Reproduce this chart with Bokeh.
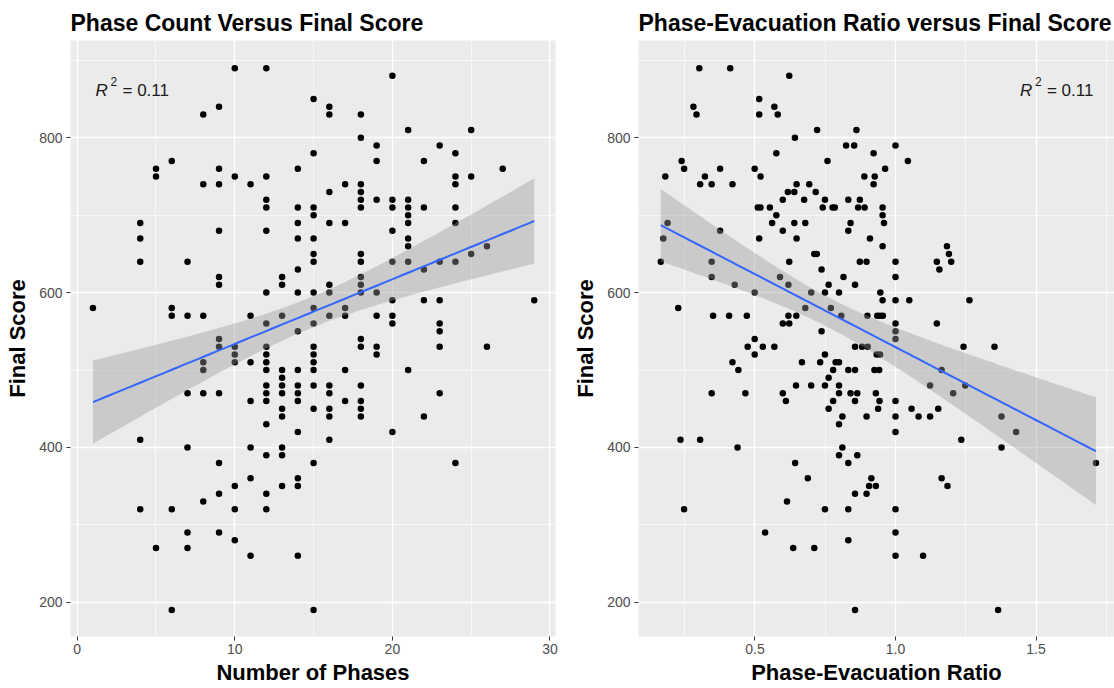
import numpy as np
from bokeh.plotting import figure
from bokeh.layouts import row
from bokeh.models import Range1d, FixedTicker, Label, PrintfTickFormatter
from bokeh.embed import file_html
from bokeh.resources import INLINE

# ---------------- data: left panel (Number of Phases vs Final Score) ----------------
phases = [1,
          4, 4, 4, 4, 4,
          5, 5, 5,
          6, 6, 6, 6, 6,
          7, 7, 7, 7, 7, 7,
          8, 8, 8, 8, 8, 8, 8,
          9, 9, 9, 9, 9, 9, 9, 9, 9, 9, 9, 9,
          10, 10, 10, 10, 10, 10, 10, 10,
          11, 11, 11, 11, 11, 11, 11,
          12, 12, 12, 12, 12, 12, 12, 12, 12, 12, 12, 12, 12, 12, 12, 12, 12, 12,
          13, 13, 13, 13, 13, 13, 13, 13, 13, 13, 13, 13,
          14, 14, 14, 14, 14, 14, 14, 14, 14, 14, 14, 14, 14, 14, 14,
          15, 15, 15, 15, 15, 15, 15, 15, 15, 15, 15, 15, 15, 15, 15, 15, 15, 15,
          16, 16, 16, 16, 16, 16, 16, 16, 16, 16, 16, 16,
          17, 17, 17, 17, 17, 17,
          18, 18, 18, 18, 18, 18, 18, 18, 18, 18, 18, 18, 18, 18, 18, 18, 18,
          19, 19, 19, 19, 19, 19, 19,
          20, 20, 20, 20, 20, 20, 20, 20, 20,
          21, 21, 21, 21, 21, 21, 21, 21, 21,
          22, 22, 22, 22, 22,
          23, 23, 23, 23, 23, 23, 23,
          24, 24, 24, 24, 24, 24, 24,
          25, 25, 25,
          26, 26,
          27,
          29]
phase_scores = [580,
                690, 670, 640, 410, 320,
                760, 750, 270,
                770, 580, 570, 320, 190,
                640, 570, 470, 400, 290, 270,
                830, 740, 570, 510, 500, 470, 330,
                840, 760, 740, 680, 620, 610, 540, 530, 470, 380, 340, 290,
                890, 750, 530, 520, 510, 350, 320, 280,
                740, 570, 510, 460, 400, 360, 260,
                890, 750, 720, 710, 680, 600, 560, 530, 520, 510, 500, 480, 470, 460, 430, 390, 340, 320,
                620, 610, 570, 500, 490, 480, 470, 450, 440, 400, 390, 350,
                760, 710, 690, 670, 630, 600, 550, 500, 480, 470, 460, 420, 360, 350, 260,
                850, 780, 710, 700, 670, 650, 640, 600, 580, 560, 530, 520, 510, 500, 480, 450, 380, 190,
                840, 830, 730, 690, 610, 600, 570, 480, 470, 450, 440, 410,
                740, 690, 580, 570, 500, 460,
                830, 800, 740, 730, 720, 710, 650, 640, 620, 610, 600, 540, 530, 480, 460, 450, 440,
                790, 770, 720, 600, 570, 530, 520,
                880, 720, 710, 680, 640, 590, 570, 560, 420,
                810, 720, 710, 700, 690, 670, 660, 640, 500,
                770, 710, 630, 590, 440,
                790, 640, 590, 560, 550, 530, 470,
                780, 750, 740, 710, 690, 640, 380,
                810, 750, 650,
                660, 530,
                760,
                590]

# ---------------- data: right panel (Phase-Evacuation Ratio vs Final Score) ----------------
ratio = [0.302, 0.412, 0.622, 0.281, 0.292, 0.515, 0.515, 0.569, 0.581, 0.642,
         0.576, 0.239, 0.248, 0.181, 0.376, 0.322, 0.305, 0.346, 0.420, 0.499,
         0.520, 0.648, 0.617, 0.640, 0.599, 0.510, 0.520, 0.553, 0.576, 0.561,
         0.640, 0.599, 0.648, 0.376, 0.189, 0.174, 0.165, 0.515, 0.346, 0.622,
         0.346, 0.428, 0.589, 0.619, 0.499, 0.227, 0.351, 0.408, 0.471, 0.619,
         0.647, 0.599, 0.622, 0.499,
         0.721, 0.861, 0.824, 0.853, 1.000, 0.922, 0.758, 1.044, 0.963, 0.889,
         0.926, 0.922, 0.693, 0.716, 0.675, 0.749, 0.832, 0.873, 0.741, 0.776,
         0.784, 0.867, 0.890, 0.954, 0.954, 0.959, 0.679, 0.840, 0.832, 0.909,
         0.954, 0.711, 0.720, 0.873, 0.897, 1.000, 1.183, 1.190, 1.198, 1.147,
         1.156, 0.737, 0.815, 1.000, 0.762, 0.856, 0.700, 0.749, 0.799, 0.946,
         0.954, 1.000, 1.049, 0.679, 0.770, 0.807, 0.900, 0.935, 0.945, 0.955,
         1.000, 1.147, 0.737, 1.000, 1.000,
         1.263,
         0.474, 0.499, 0.528, 0.569, 0.420, 0.441, 0.646, 0.346, 0.466, 0.599,
         0.610, 0.235, 0.305, 0.438, 0.643, 0.614, 0.248, 0.536, 0.636,
         0.856, 0.881, 0.901, 0.749, 0.933, 0.945, 0.667, 0.732, 0.787, 0.799,
         0.778, 0.832, 0.856, 0.925, 0.942, 1.164, 0.762, 0.700, 0.749, 0.799,
         1.123, 0.799, 0.840, 0.864, 0.930, 1.205, 0.778, 0.856, 0.943, 1.000,
         0.762, 0.938, 1.057, 1.152, 0.811, 0.897, 1.000, 1.082, 1.123, 0.799,
         1.000, 0.811, 0.799, 0.864, 0.832, 0.688, 0.914, 1.164, 0.906, 0.930,
         1.185, 0.856, 0.897, 0.749, 0.832, 1.000, 1.000, 0.832, 0.711, 1.000,
         1.098, 0.856,
         1.242, 1.352, 1.248, 1.377, 1.429, 1.234, 1.377, 1.713, 1.365]
ratio_scores = [890, 890, 880, 840, 830, 850, 830, 840, 830, 800,
                780, 770, 760, 750, 760, 750, 740, 740, 740, 760,
                750, 740, 730, 730, 720, 710, 710, 710, 700, 690,
                690, 680, 670, 680, 690, 670, 640, 670, 640, 640,
                620, 610, 620, 610, 600, 580, 570, 570, 570, 570,
                570, 560, 560, 540,
                810, 810, 790, 790, 790, 780, 770, 770, 760, 750,
                750, 740, 740, 730, 720, 720, 720, 720, 710, 710,
                710, 710, 710, 710, 700, 690, 690, 690, 680, 670,
                660, 650, 650, 640, 640, 640, 660, 650, 640, 640,
                630, 630, 620, 620, 610, 610, 600, 600, 600, 600,
                590, 590, 590, 580, 580, 570, 570, 570, 570, 570,
                560, 560, 550, 550, 540,
                590,
                530, 520, 530, 530, 510, 500, 480, 470, 470, 470,
                460, 410, 410, 400, 380, 330, 320, 290, 270,
                530, 530, 530, 520, 520, 520, 510, 510, 510, 510,
                500, 500, 500, 500, 500, 500, 490, 480, 480, 480,
                480, 470, 470, 470, 470, 470, 460, 460, 460, 460,
                450, 450, 450, 450, 440, 440, 440, 440, 440, 430,
                420, 400, 390, 390, 380, 360, 360, 360, 350, 350,
                350, 340, 340, 320, 320, 320, 290, 280, 270, 260,
                260, 190,
                530, 530, 480, 440, 420, 410, 400, 380, 190]

r2_text = "0.11"
left_title = "Phase Count Versus Final Score"
right_title = "Phase-Evacuation Ratio versus Final Score"

T95 = 1.97  # t quantile for 95% confidence band (df ~ 200)


def lm_band(x, y, n_pts=80):
    x = np.asarray(x, float)
    y = np.asarray(y, float)
    n = len(x)
    b, a = np.polyfit(x, y, 1)
    xs = np.linspace(x.min(), x.max(), n_pts)
    yh = a + b * xs
    resid = y - (a + b * x)
    s = np.sqrt(np.sum(resid ** 2) / (n - 2))
    sxx = np.sum((x - x.mean()) ** 2)
    se = s * np.sqrt(1.0 / n + (xs - x.mean()) ** 2 / sxx)
    return xs, yh, yh - T95 * se, yh + T95 * se


FONT = "Liberation Sans"


def make_panel(x, y, width, bl, br, xr, xticks, xminor, xlabel, title, xfmt=None):
    p = figure(width=width, height=688, output_backend="svg", toolbar_location=None,
               x_range=Range1d(*xr), y_range=Range1d(155.7, 925.7),
               min_border_left=bl, min_border_right=br, min_border_top=40, min_border_bottom=52)
    p.background_fill_color = "#EBEBEB"
    p.border_fill_color = "white"
    p.outline_line_color = None

    p.title.text = title
    p.title.text_font = FONT
    p.title.text_font_style = "bold"
    p.title.text_font_size = "23px"
    p.title.text_color = "black"
    p.title.align = "left"
    p.title.standoff = 10

    p.xaxis.ticker = FixedTicker(ticks=xticks, minor_ticks=xminor)
    if xfmt is not None:
        p.xaxis.formatter = PrintfTickFormatter(format=xfmt)
    p.yaxis.ticker = FixedTicker(ticks=[200, 400, 600, 800], minor_ticks=[300, 500, 700, 900])
    for ax in (p.xaxis[0], p.yaxis[0]):
        ax.axis_line_color = None
        ax.major_tick_line_color = "#333333"
        ax.major_tick_line_width = 1
        ax.major_tick_out = 4
        ax.major_tick_in = 0
        ax.minor_tick_line_color = None
        ax.major_label_text_font = FONT
        ax.major_label_text_font_size = "14px"
        ax.major_label_text_color = "#4D4D4D"
        ax.axis_label_text_font = FONT
        ax.axis_label_text_font_style = "bold"
        ax.axis_label_text_font_size = "22px"
        ax.axis_label_text_color = "black"
    p.xaxis.major_label_standoff = 3
    p.yaxis.major_label_standoff = 4
    p.xaxis.axis_label = xlabel
    p.yaxis.axis_label = "Final Score"
    p.xaxis.axis_label_standoff = 3
    p.yaxis.axis_label_standoff = 6

    for g in (p.xgrid[0], p.ygrid[0]):
        g.grid_line_color = "white"
        g.grid_line_width = 1.3
        g.minor_grid_line_color = "white"
        g.minor_grid_line_width = 0.6

    p.scatter(x, y, size=6.5, color="black", line_width=0)
    xs, yh, lo, hi = lm_band(x, y)
    p.varea(x=xs, y1=lo, y2=hi, fill_color="#999999", fill_alpha=0.4)
    p.line(xs, yh, line_color="#3366FF", line_width=2)
    return p


left = make_panel(phases, phase_scores, 570, 70, 15, (-0.425, 30.35),
                  [0, 10, 20, 30], [5, 15, 25], "Number of Phases", left_title)
right = make_panel(ratio, ratio_scores, 544, 62, 0, (0.0857, 1.779),
                   [0.5, 1.0, 1.5], [0.25, 0.75, 1.25, 1.75], "Phase-Evacuation Ratio",
                   right_title, xfmt="%.1f")


def r2_label(p, x, y):
    p.add_layout(Label(x=x, y=y, text="R", text_font=FONT, text_font_style="italic",
                       text_font_size="17px", text_color="#1A1A1A", text_baseline="alphabetic"))
    p.add_layout(Label(x=x, y=y, x_offset=15, y_offset=9, text="2", text_font=FONT,
                       text_font_size="12px", text_color="#1A1A1A", text_baseline="alphabetic"))
    p.add_layout(Label(x=x, y=y, x_offset=27, text="= " + r2_text, text_font=FONT,
                       text_font_size="17px", text_color="#1A1A1A", text_baseline="alphabetic"))


r2_label(left, 1.16, 861)
r2_label(right, 1.0 + (1018.3 - 892.3) / 284.7, 861)

layout = row(left, right)
open("out.html", "w").write(file_html(layout, INLINE))
